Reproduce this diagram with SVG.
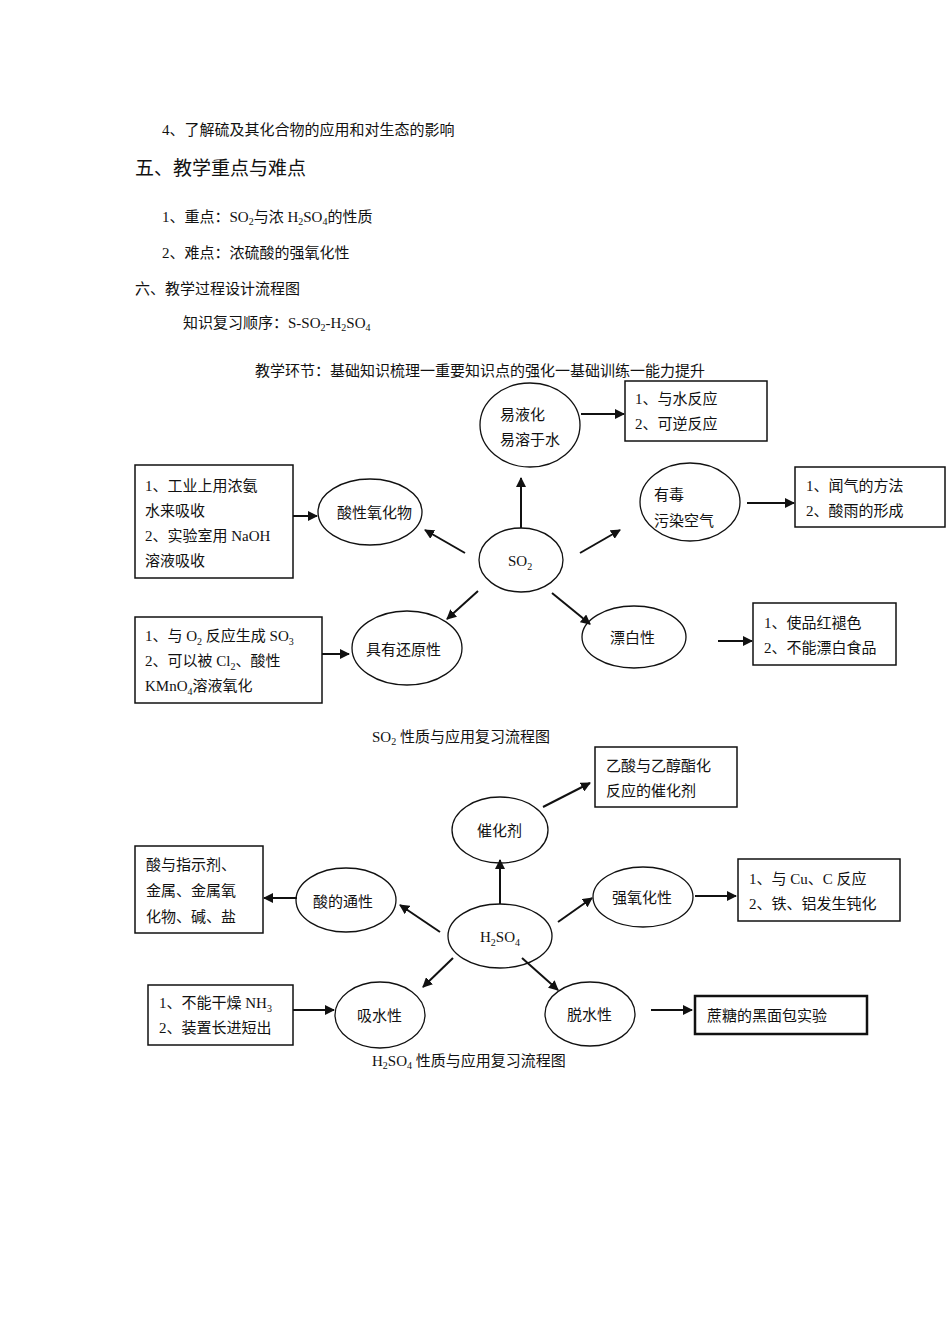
<svg xmlns="http://www.w3.org/2000/svg" width="950" height="1344" viewBox="0 0 950 1344">
<style>
text{font-family:"Liberation Serif","Noto Sans CJK SC",serif;font-size:15px;fill:#111}
.h{font-size:19px}
.e{fill:#fff;stroke:#111;stroke-width:1.3}
.b{fill:#fff;stroke:#111;stroke-width:1.5}
.c line{stroke:#111;stroke-width:2;marker-end:url(#a)}
</style>
<defs><marker id="a" viewBox="0 0 10 10" refX="9" refY="5" markerWidth="5" markerHeight="5" orient="auto"><path d="M0,0L10,5L0,10z" fill="#111"/></marker></defs>
<rect width="950" height="1344" fill="#fff"/>
<text x="162" y="135">4、了解硫及其化合物的应用和对生态的影响</text>
<text x="135" y="175" class="h">五、教学重点与难点</text>
<text x="162" y="222">1、重点：SO<tspan font-size="10" dy="3">2</tspan><tspan dy="-3">与浓 H</tspan><tspan font-size="10" dy="3">2</tspan><tspan dy="-3">SO</tspan><tspan font-size="10" dy="3">4</tspan><tspan dy="-3">的性质</tspan></text>
<text x="162" y="258">2、难点：浓硫酸的强氧化性</text>
<text x="135" y="294" font-size="17">六、教学过程设计流程图</text>
<text x="183" y="328">知识复习顺序：S-SO<tspan font-size="10" dy="3">2</tspan><tspan dy="-3">-H</tspan><tspan font-size="10" dy="3">2</tspan><tspan dy="-3">SO</tspan><tspan font-size="10" dy="3">4</tspan></text>
<text x="255" y="376">教学环节：基础知识梳理一重要知识点的强化一基础训练一能力提升</text>

<g id="so2"><ellipse class="e" cx="521" cy="560" rx="42" ry="32"/><text x="508" y="566">SO<tspan font-size="10" dy="4">2</tspan></text></g>
<g id="yyh"><ellipse class="e" cx="530" cy="425" rx="50" ry="42"/><text x="500" y="420">易液化</text><text x="500" y="445">易溶于水</text></g>
<g id="b1"><rect class="b" x="625" y="381" width="142" height="60"/><text x="635" y="404">1、与水反应</text><text x="635" y="429">2、可逆反应</text></g>
<g id="sxyhw"><ellipse class="e" cx="370" cy="512" rx="52" ry="33"/><text x="337" y="518">酸性氧化物</text></g>
<g id="b2"><rect class="b" x="135" y="465" width="158" height="113"/><text x="145" y="491">1、工业上用浓氨</text><text x="145" y="516">水来吸收</text><text x="145" y="541">2、实验室用 NaOH</text><text x="145" y="566">溶液吸收</text></g>
<g id="yd"><ellipse class="e" cx="690" cy="502" rx="50" ry="39"/><text x="654" y="500">有毒</text><text x="654" y="526">污染空气</text></g>
<g id="b3"><rect class="b" x="795" y="467" width="150" height="60"/><text x="806" y="491">1、闻气的方法</text><text x="806" y="516">2、酸雨的形成</text></g>
<g id="pbx"><ellipse class="e" cx="634" cy="637" rx="52" ry="31"/><text x="610" y="643">漂白性</text></g>
<g id="b4"><rect class="b" x="753" y="603" width="143" height="62"/><text x="764" y="628">1、使品红褪色</text><text x="764" y="653">2、不能漂白食品</text></g>
<g id="hyx"><ellipse class="e" cx="407" cy="648" rx="55" ry="37"/><text x="366" y="655">具有还原性</text></g>
<g id="b5"><rect class="b" x="135" y="617" width="187" height="86"/><text x="145" y="641">1、与 O<tspan font-size="10" dy="4">2</tspan><tspan dy="-4"> 反应生成 SO</tspan><tspan font-size="10" dy="4">3</tspan></text><text x="145" y="666">2、可以被 Cl<tspan font-size="10" dy="4">2</tspan><tspan dy="-4">、酸性</tspan></text><text x="145" y="691">KMnO<tspan font-size="10" dy="4">4</tspan><tspan dy="-4">溶液氧化</tspan></text></g>
<text x="372" y="742">SO<tspan font-size="10" dy="3">2</tspan><tspan dy="-3"> 性质与应用复习流程图</tspan></text>

<g id="h2so4"><ellipse class="e" cx="500" cy="936" rx="52" ry="32"/><text x="480" y="942">H<tspan font-size="10" dy="4">2</tspan><tspan dy="-4">SO</tspan><tspan font-size="10" dy="4">4</tspan></text></g>
<g id="chj"><ellipse class="e" cx="500" cy="830" rx="48" ry="33"/><text x="477" y="836">催化剂</text></g>
<g id="b6"><rect class="b" x="595" y="747" width="142" height="60"/><text x="606" y="771">乙酸与乙醇酯化</text><text x="606" y="796">反应的催化剂</text></g>
<g id="sdtx"><ellipse class="e" cx="346" cy="900" rx="50" ry="32"/><text x="313" y="907">酸的通性</text></g>
<g id="b7"><rect class="b" x="135" y="846" width="128" height="87"/><text x="146" y="870">酸与指示剂、</text><text x="146" y="896">金属、金属氧</text><text x="146" y="922">化物、碱、盐</text></g>
<g id="qyhx"><ellipse class="e" cx="643" cy="897" rx="50" ry="30"/><text x="612" y="903">强氧化性</text></g>
<g id="b8"><rect class="b" x="738" y="859" width="162" height="62"/><text x="749" y="884">1、与 Cu、C 反应</text><text x="749" y="909">2、铁、铝发生钝化</text></g>
<g id="xsx"><ellipse class="e" cx="380" cy="1015" rx="45" ry="33"/><text x="357" y="1021">吸水性</text></g>
<g id="b9"><rect class="b" x="148" y="985" width="145" height="60"/><text x="159" y="1008">1、不能干燥 NH<tspan font-size="10" dy="4">3</tspan></text><text x="159" y="1033">2、装置长进短出</text></g>
<g id="tsx"><ellipse class="e" cx="590" cy="1014" rx="45" ry="32"/><text x="567" y="1020">脱水性</text></g>
<g id="b10"><rect x="695" y="996" width="172" height="38" fill="#fff" stroke="#111" stroke-width="2.5"/><text x="707" y="1021">蔗糖的黑面包实验</text></g>
<text x="372" y="1066">H<tspan font-size="10" dy="3">2</tspan><tspan dy="-3">SO</tspan><tspan font-size="10" dy="3">4</tspan><tspan dy="-3"> 性质与应用复习流程图</tspan></text>

<g class="c" id="connectors">
<line x1="581" y1="414" x2="624" y2="414"/>
<line x1="293" y1="516" x2="317" y2="516"/>
<line x1="747" y1="503" x2="794" y2="503"/>
<line x1="718" y1="641" x2="752" y2="641"/>
<line x1="322" y1="654" x2="349" y2="654"/>
<line x1="521" y1="528" x2="521" y2="478"/>
<line x1="465" y1="553" x2="425" y2="530"/>
<line x1="580" y1="553" x2="620" y2="530"/>
<line x1="478" y1="591" x2="447" y2="619"/>
<line x1="552" y1="593" x2="590" y2="624"/>
<line x1="543" y1="807" x2="590" y2="783"/>
<line x1="500" y1="904" x2="500" y2="860"/>
<line x1="297" y1="898" x2="264" y2="898"/>
<line x1="440" y1="932" x2="400" y2="905"/>
<line x1="558" y1="922" x2="592" y2="898"/>
<line x1="453" y1="958" x2="423" y2="987"/>
<line x1="522" y1="958" x2="558" y2="990"/>
<line x1="695" y1="896" x2="736" y2="896"/>
<line x1="293" y1="1010" x2="334" y2="1010"/>
<line x1="651" y1="1010" x2="692" y2="1010"/>
</g>
</svg>
